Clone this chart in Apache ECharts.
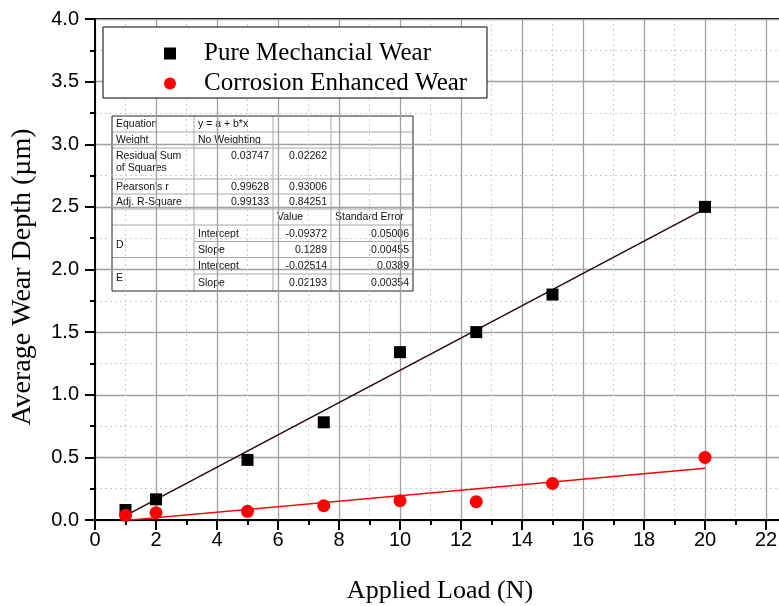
<!DOCTYPE html>
<html>
<head>
<meta charset="utf-8">
<script src="https://cdn.jsdelivr.net/npm/echarts@6/dist/echarts.min.js"></script>
<style>
  html, body { margin: 0; padding: 0; background: #fff; }
  #chart { width: 779px; height: 606px; }
</style>
</head>
<body>
<div id="chart"></div>
<script>
// Applied load (N) and measured wear depth (µm)
const loads = [1, 2, 5, 7.5, 10, 12.5, 15, 20];
const pureWear = [0.08, 0.165, 0.48, 0.78, 1.34, 1.50, 1.80, 2.50];
const corrosionWear = [0.037, 0.058, 0.069, 0.114, 0.154, 0.146, 0.292, 0.50];

const seriesNames = ['Pure Mechancial Wear', 'Corrosion Enhanced Wear'];
const groupLabels = ['D', 'E'];

// Linear fit results y = a + b*x for D (pure) and E (corrosion)
const fitIntercept = [-0.09372, -0.02514];
const fitInterceptErr = [0.05006, 0.0389];
const fitSlope = [0.1289, 0.02193];
const fitSlopeErr = [0.00455, 0.00354];
const residualSS = [0.03747, 0.02262];
const pearsonR = [0.99628, 0.93006];
const adjR2 = [0.99133, 0.84251];

const xTicks = { min: 0, max: 24, interval: 2 };
const yTicks = { min: 0, max: 4, interval: 0.5 };

const serif = 'Liberation Serif, Times New Roman, serif';
const sans = 'Liberation Sans, Arial, Helvetica, sans-serif';

function fitLine(i) {
  const x0 = Math.min(...loads), x1 = Math.max(...loads);
  return [[x0, fitIntercept[i] + fitSlope[i] * x0], [x1, fitIntercept[i] + fitSlope[i] * x1]];
}

// ---- statistics table (drawn as graphic elements) ----
const tableRows = [
  ['Equation', 'y = a + b*x', '', ''],
  ['Weight', 'No Weighting', '', ''],
  ['Residual Sum\nof Squares', String(residualSS[0]), String(residualSS[1]), ''],
  ["Pearson's r", String(pearsonR[0]), String(pearsonR[1]), ''],
  ['Adj. R-Square', String(adjR2[0]), String(adjR2[1]), ''],
  ['', '', 'Value', 'Standard Error'],
  [groupLabels[0], 'Intercept', String(fitIntercept[0]), String(fitInterceptErr[0])],
  ['', 'Slope', String(fitSlope[0]), String(fitSlopeErr[0])],
  [groupLabels[1], 'Intercept', String(fitIntercept[1]), String(fitInterceptErr[1])],
  ['', 'Slope', String(fitSlope[1]), String(fitSlopeErr[1])]
];

const tblX = [112, 194, 273, 331, 413];
const tblY = [116, 132, 148, 179, 194, 209, 225, 241.5, 257.5, 274, 291];
const mergedBreaks = [7, 9]; // row boundaries hidden in first column

function buildTable() {
  const els = [];
  els.push({
    type: 'rect', shape: { x: tblX[0], y: tblY[0], width: tblX[4] - tblX[0], height: tblY[10] - tblY[0] },
    style: { fill: '#fff', stroke: null }
  });
  // inner horizontal lines
  for (let r = 1; r < tblY.length - 1; r++) {
    const xs = mergedBreaks.includes(r) ? tblX[1] : tblX[0];
    els.push({ type: 'line', shape: { x1: xs, y1: tblY[r], x2: tblX[4], y2: tblY[r] },
      style: { stroke: '#a8a8a8', lineWidth: 1 } });
  }
  // inner vertical lines
  for (let c = 1; c < tblX.length - 1; c++) {
    els.push({ type: 'line', shape: { x1: tblX[c], y1: tblY[0], x2: tblX[c], y2: tblY[10] },
      style: { stroke: '#a8a8a8', lineWidth: 1 } });
  }
  // outer frame
  els.push({
    type: 'rect', shape: { x: tblX[0], y: tblY[0], width: tblX[4] - tblX[0], height: tblY[10] - tblY[0] },
    style: { fill: null, stroke: '#222', lineWidth: 1 }
  });
  // cell texts
  tableRows.forEach((row, r) => {
    row.forEach((txt, c) => {
      if (!txt) return;
      const numeric = /^-?\d/.test(txt);
      let y = (tblY[r] + tblY[r + 1]) / 2 + 0.5;
      let vAlign = 'middle';
      if (r === 2) { y = tblY[r] + 2; vAlign = 'top'; }
      if (c === 0 && r >= 6) { y = tblY[r + 1] + 4; }
      const x = numeric ? tblX[c + 1] - 4 : tblX[c] + 4;
      els.push({
        type: 'text', x: x, y: y,
        style: {
          text: txt, fill: '#111', font: '10.5px ' + sans, lineHeight: 12,
          align: numeric ? 'right' : 'left', verticalAlign: vAlign
        }
      });
    });
  });
  return { type: 'group', z: 10, children: els };
}

const chart = echarts.init(document.getElementById('chart'));

const axisCommon = {
  axisLine: { show: true, onZero: false, lineStyle: { color: '#000', width: 2 } },
  axisTick: { show: true, inside: false, length: 10, lineStyle: { color: '#000', width: 2 } },
  minorTick: { show: true, splitNumber: 2, length: 5, lineStyle: { color: '#000', width: 2 } },
  splitLine: { show: true, lineStyle: { color: '#a0a0a0', width: 1.3 } },
  minorSplitLine: { show: true, lineStyle: { color: '#cccccc', width: 1, type: [2, 3] } }
};

chart.setOption({
  backgroundColor: '#fff',
  animation: false,
  grid: {
    left: 95, top: 19, bottom: 86, right: -48,
    containLabel: false, outerBoundsMode: 'none',
    show: true, borderColor: '#000', borderWidth: 2, backgroundColor: 'transparent'
  },
  xAxis: Object.assign({
    type: 'value', min: xTicks.min, max: xTicks.max, interval: xTicks.interval,
    axisLabel: { color: '#000', fontSize: 20, fontFamily: sans, margin: 10 }
  }, axisCommon),
  yAxis: Object.assign({
    type: 'value', min: yTicks.min, max: yTicks.max, interval: yTicks.interval,
    axisLabel: { color: '#000', fontSize: 20, fontFamily: sans, margin: 16,
      formatter: v => v.toFixed(1) }
  }, axisCommon),
  legend: {
    orient: 'vertical', left: 159, top: 36,
    itemWidth: 12, itemHeight: 12, itemGap: 5,
    data: [{ name: seriesNames[0], icon: 'rect' }, { name: seriesNames[1], icon: 'circle' }],
    formatter: n => '{t|' + n + '}',
    textStyle: {
      color: '#000', fontFamily: serif, fontSize: 25,
      rich: { t: { fontFamily: serif, fontSize: 25, lineHeight: 25, padding: [0, 0, 0, 23], color: '#000' } }
    },
    z: 20
  },
  graphic: [
    {
      type: 'rect', z: 9, shape: { x: 103, y: 27, width: 384, height: 71 },
      style: { fill: '#fff', stroke: '#000', lineWidth: 1 }
    },
    buildTable(),
    {
      type: 'text', x: 440, y: 591, z: 10,
      style: { text: 'Applied Load (N)', font: '26px ' + serif, fill: '#000', align: 'center', verticalAlign: 'middle' }
    },
    {
      type: 'text', x: 23, y: 277, z: 10, rotation: Math.PI / 2,
      style: { text: 'Average Wear Depth (\u00b5m)', font: '28px ' + serif, fill: '#000', align: 'center', verticalAlign: 'middle' }
    }
  ],
  series: [
    {
      name: 'fitD', type: 'line', data: fitLine(0), symbol: 'none', silent: true, z: 3,
      lineStyle: { color: '#2a0505', width: 1.5 }, clip: true
    },
    {
      name: 'fitE', type: 'line', data: fitLine(1), symbol: 'none', silent: true, z: 3,
      lineStyle: { color: '#ff0000', width: 1.5 }, clip: true
    },
    {
      name: seriesNames[0], type: 'scatter', symbol: 'rect', symbolSize: 12, z: 4,
      itemStyle: { color: '#000', opacity: 1 },
      data: loads.map((x, i) => [x, pureWear[i]])
    },
    {
      name: seriesNames[1], type: 'scatter', symbol: 'circle', symbolSize: 13, z: 4,
      itemStyle: { color: '#ff0000', opacity: 1 },
      data: loads.map((x, i) => [x, corrosionWear[i]])
    }
  ]
});
</script>
</body>
</html>
